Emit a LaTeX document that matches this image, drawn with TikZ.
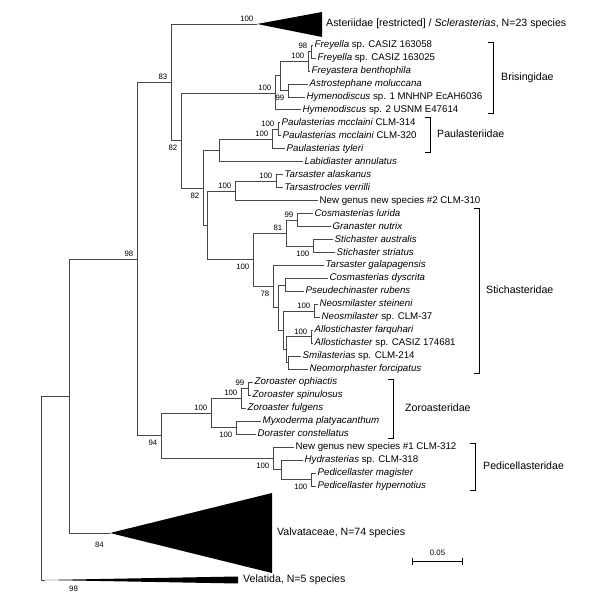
\documentclass[tikz,border=0pt]{standalone}
\usepackage{fontspec}
\setmainfont{Liberation Sans}
\usetikzlibrary{positioning}
\begin{document}
\begin{tikzpicture}[x=1pt,y=-1pt]

        % Styles
        \tikzstyle{branch}=[black!72,line width=0.75pt]
        \tikzstyle{taxon}=[anchor=west,inner sep=1.5pt,text height=6.9pt,text depth=1.9pt,font=\fontsize{9.7}{11}\selectfont]
        \tikzstyle{support}=[inner sep=0pt,font=\fontsize{7.8}{9}\selectfont]
        \tikzstyle{bs above}=[support,anchor=south east,xshift=-3.5pt,yshift=2.5pt]
        \tikzstyle{bs below}=[support,anchor=north east,xshift=-3.5pt,yshift=-4.5pt]
        \tikzstyle{clade}=[anchor=west,inner sep=0pt,text height=7.6pt,text depth=2.1pt,font=\fontsize{10.6}{12}\selectfont]
        \tikzstyle{bracket}=[black,line width=0.75pt]
        \tikzstyle{collapsed}=[fill=black]
        \useasboundingbox (0,0) rectangle (600,599);

        %taxa (tips of the branches)
        \foreach \n/\x/\txt in {1/313/{\textit{Freyella} sp. CASIZ 163058},
                2/316/{\textit{Freyella} sp. CASIZ 163025},
                3/310/{\textit{Freyastera benthophila}},
                4/308/{\textit{Astrostephane moluccana}},
                5/305/{\textit{Hymenodiscus} sp. 1 MNHNP EcAH6036},
                6/301/{\textit{Hymenodiscus} sp. 2 USNM E47614},
                7/280/{\textit{Paulasterias mcclaini} CLM-314},
                8/281/{\textit{Paulasterias mcclaini} CLM-320},
                9/285/{\textit{Paulasterias tyleri}},
                10/303/{\textit{Labidiaster annulatus}},
                11/283/{\textit{Tarsaster alaskanus}},
                12/283/{\textit{Tarsastrocles verrilli}},
                13/318/{New genus new species \#2 CLM-310},
                14/313/{\textit{Cosmasterias lurida}},
                15/331/{\textit{Granaster nutrix}},
                16/333/{\textit{Stichaster australis}},
                17/335/{\textit{Stichaster striatus}},
                18/324/{\textit{Tarsaster galapagensis}},
                19/328/{\textit{Cosmasterias dyscrita}},
                20/304/{\textit{Pseudechinaster rubens}},
                21/318/{\textit{Neosmilaster steineni}},
                22/320/{\textit{Neosmilaster} sp. CLM-37},
                23/313/{\textit{Allostichaster farquhari}},
                24/313/{\textit{Allostichaster} sp. CASIZ 174681},
                25/301/{\textit{Smilasterias} sp. CLM-214},
                26/308/{\textit{Neomorphaster forcipatus}},
                27/253/{\textit{Zoroaster ophiactis}},
                28/251/{\textit{Zoroaster spinulosus}},
                29/246/{\textit{Zoroaster fulgens}},
                30/261/{\textit{Myxoderma platyacanthum}},
                31/256/{\textit{Doraster constellatus}},
                32/294/{New genus new species \#1 CLM-312},
                33/303/{\textit{Hydrasterias} sp. CLM-318},
                34/316/{\textit{Pedicellaster magister}},
                35/316/{\textit{Pedicellaster hypernotius}}}
        {
            \coordinate (t\n) at (\x,{45+12.97*(\n-1)});
            \node[taxon] (l\n) at (t\n) {\txt};
        }

        %internal nodes
        \coordinate (ast) at (257,24);
        \coordinate (f1) at (311,51.5);
        \coordinate (f2) at (308,61.2);
        \coordinate (b2) at (288,90.4);
        \coordinate (b1) at (280,75.8);
        \coordinate (b0) at (275,92.9);
        \coordinate (p1) at (278,129.3);
        \coordinate (p2) at (272,139);
        \coordinate (pl) at (219,150.4);
        \coordinate (ta1) at (276,181.2);
        \coordinate (ta0) at (235,190.9);
        \coordinate (c1) at (297,220.1);
        \coordinate (c2) at (313,246);
        \coordinate (s81) at (286,233);
        \coordinate (e1) at (285,285);
        \coordinate (n1) at (314,310.9);
        \coordinate (a1) at (311,336.8);
        \coordinate (s1) at (288,362.8);
        \coordinate (e3) at (286,349.8);
        \coordinate (e2) at (283,330.4);
        \coordinate (d1) at (278,307.7);
        \coordinate (s78) at (273,286.6);
        \coordinate (s100) at (253,259.8);
        \coordinate (x1) at (207,225.4);
        \coordinate (n82b) at (203,187.9);
        \coordinate (n82a) at (181,140.4);
        \coordinate (n83) at (171,82.2);
        \coordinate (zc) at (248,388.7);
        \coordinate (za) at (241,398.5);
        \coordinate (zb) at (236,427.6);
        \coordinate (z0) at (211,413);
        \coordinate (pm) at (311,479.5);
        \coordinate (pa) at (281,469.8);
        \coordinate (pd) at (273,458.5);
        \coordinate (z94) at (161,435.8);
        \coordinate (n98a) at (137,259);
        \coordinate (valv) at (110,533);
        \coordinate (n98b) at (69,396);
        \coordinate (vel) at (45,580);
        \coordinate (root) at (41,488);
        \coordinate (vb) at (root |- vel);

        %branches
        \foreach \p/\c in {n83/ast, n83/n82a, n82a/b0, n82a/n82b,
                b0/b1, b0/t6, b1/f2, b1/b2, f2/f1, f2/t3, f1/t1, f1/t2, b2/t4, b2/t5,
                n82b/pl, n82b/x1, pl/p2, pl/t10, p2/p1, p2/t9, p1/t7, p1/t8,
                x1/ta0, x1/s100, ta0/ta1, ta0/t13, ta1/t11, ta1/t12,
                s100/s81, s100/s78, s81/c1, s81/c2, c1/t14, c1/t15, c2/t16, c2/t17,
                s78/t18, s78/d1, d1/e1, d1/e2, e1/t19, e1/t20, e2/n1, e2/e3,
                n1/t21, n1/t22, e3/a1, e3/s1, a1/t23, a1/t24, s1/t25, s1/t26,
                n98a/n83, n98a/z94, z94/z0, z94/pd, z0/za, z0/zb, za/zc, za/t29,
                zc/t27, zc/t28, zb/t30, zb/t31, pd/t32, pd/pa, pa/t33, pa/pm,
                pm/t34, pm/t35, n98b/n98a, n98b/valv, root/n98b, root/vel}
            \draw[branch] (\p) |- (\c);

        %collapsed clades
        \fill[collapsed] (ast) -- (322,12) -- (322,37) -- cycle;
        \fill[collapsed] (valv) -- (272,493) -- (272,573) -- cycle;
        \fill[collapsed] (vel) -- (238,576.5) -- (238,583.5) -- cycle;
        \node[clade] (asteriidae) at (326,24) {Asteriidae [restricted] / \textit{Sclerasterias}, N=23 species};
        \node[clade] (valvataceae) at (277,533) {Valvataceae, N=74 species};
        \node[clade] (velatida) at (243,580) {Velatida, N=5 species};

        %bootstrap values
        \foreach \c/\v in {ast/100, f1/98, f2/100, b0/100, p1/100, p2/100, ta1/100, ta0/100,
                c1/99, s81/81, n1/100, a1/100, z0/100, zc/99, za/100, n98a/98, n83/83}
            \node[bs above] (bs-\c) at (\c) {\v};
        \foreach \c/\v in {b2/99, n82a/82, n82b/82, c2/100, s100/100, s78/78, zb/100,
                z94/94, pd/100, pm/100}
            \node[bs below] (bs-\c) at (\c) {\v};
        \node[support, below left=9pt and 6pt of valv] (bs-valv) {84};
        \node[support, below right=6pt and 28pt of vb] (bs-vel) {98};

        %families
        \foreach \fam/\x/\top/\bot/\gap in {Brisingidae/493/42/113/8,
                Paulasteriidae/430/117/152/7, Stichasteridae/479/208/373/7,
                Zoroasteridae/393/379/438/12, Pedicellasteridae/475/443/490/8}
        {
            \coordinate (\fam-t) at (\x,\top);
            \coordinate (\fam-b) at (\x,\bot);
            \draw[bracket] ([xshift=-5pt]\fam-t) -- (\fam-t) -- (\fam-b) -- ([xshift=-5pt]\fam-b);
            \node[clade] (\fam) at ({\x+\gap},{(\top+\bot)/2}) {\fam};
        }

        %scale bar
        \coordinate (sbl) at (412,561);
        \coordinate (sbr) at (463,561);
        \draw[bracket,|-|] (sbl) -- (sbr) node[midway,above=5pt,support] (sbt) {0.05};
\end{tikzpicture}
\end{document}
